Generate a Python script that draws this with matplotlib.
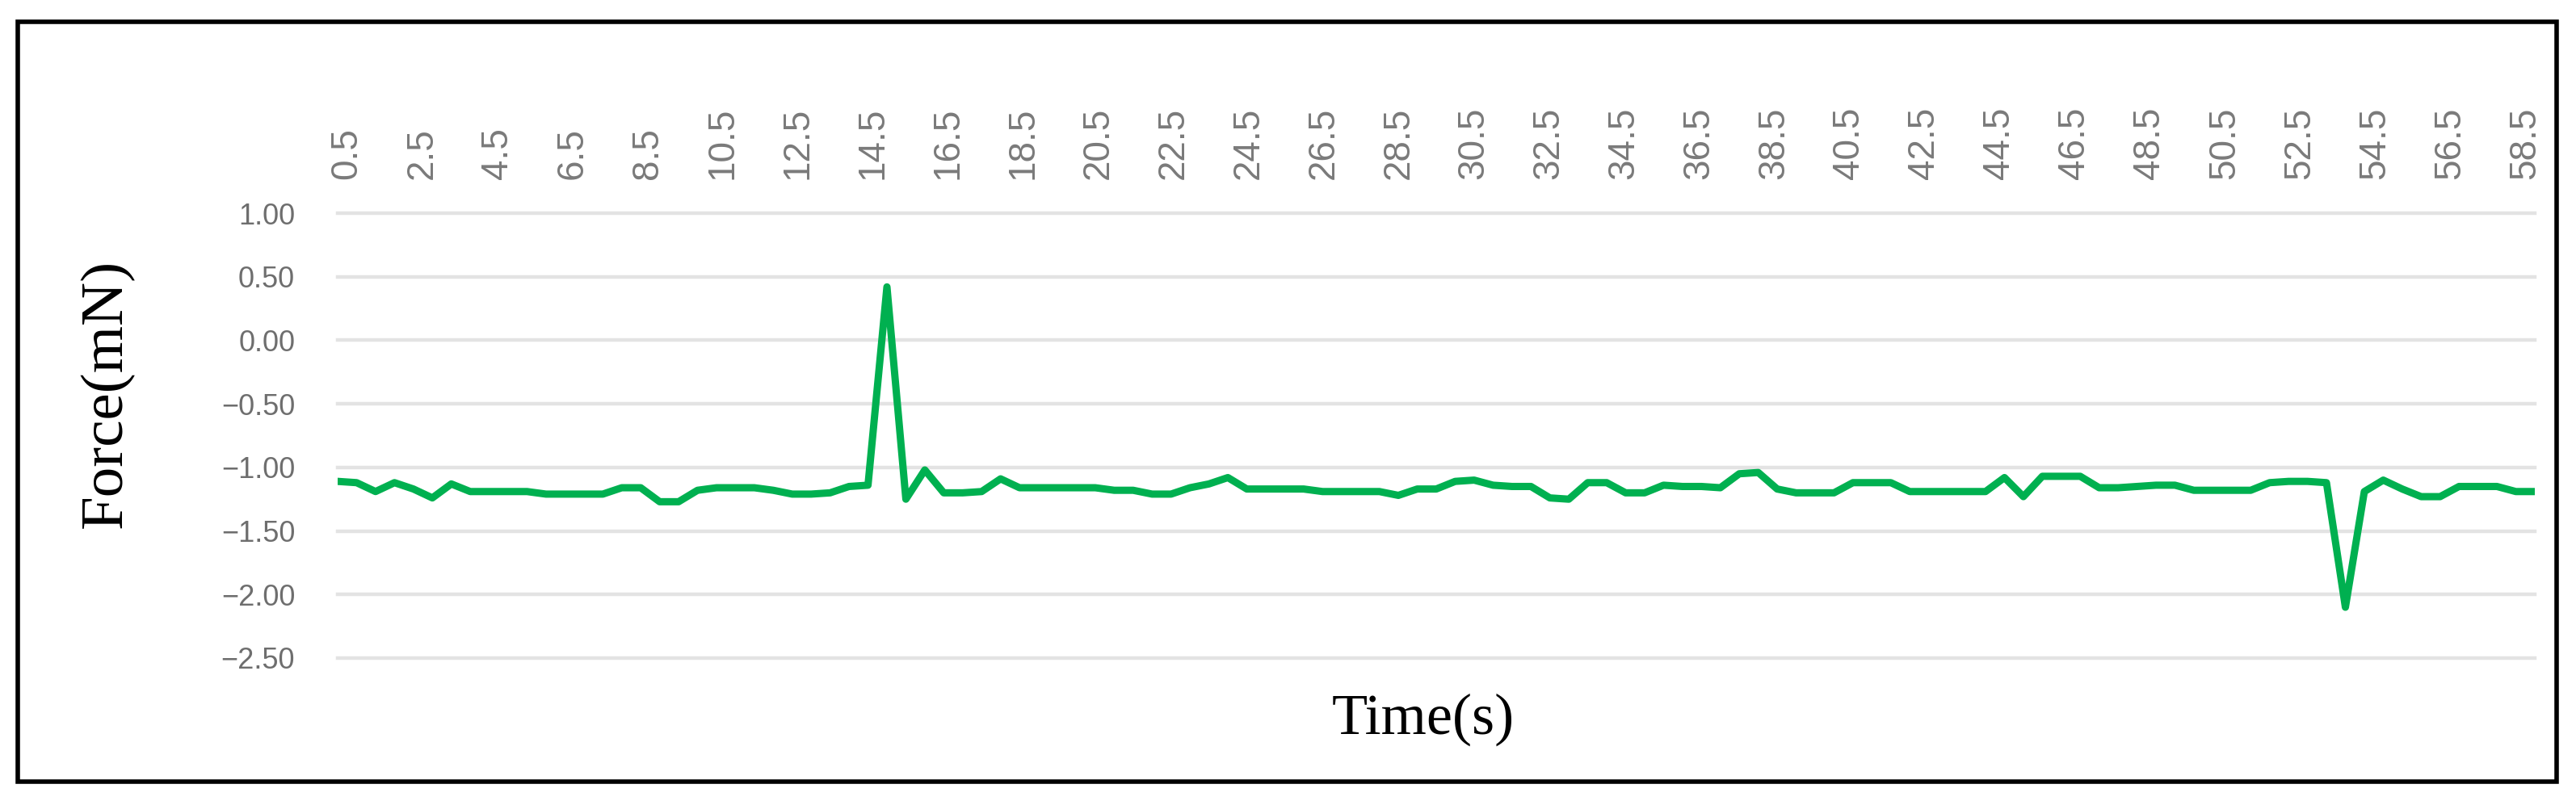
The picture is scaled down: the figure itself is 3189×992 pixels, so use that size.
import numpy as np
import matplotlib
matplotlib.use("Agg")
import matplotlib.pyplot as plt
from matplotlib import font_manager
from matplotlib.patches import Rectangle

# ---- data ----
time_s = np.arange(0.5, 58.75, 0.5)          # 0.5 ... 58.5 s, 117 samples
force_mN = [
    -1.11, -1.12, -1.19, -1.12, -1.17, -1.24, -1.13, -1.19, -1.19, -1.19,
    -1.19, -1.21, -1.21, -1.21, -1.21, -1.16, -1.16, -1.27, -1.27, -1.18,
    -1.16, -1.16, -1.16, -1.18, -1.21, -1.21, -1.20, -1.15, -1.14, 0.42,
    -1.25, -1.02, -1.20, -1.20, -1.19, -1.09, -1.16, -1.16, -1.16, -1.16,
    -1.16, -1.18, -1.18, -1.21, -1.21, -1.16, -1.13, -1.08, -1.17, -1.17,
    -1.17, -1.17, -1.19, -1.19, -1.19, -1.19, -1.22, -1.17, -1.17, -1.11,
    -1.10, -1.14, -1.15, -1.15, -1.24, -1.25, -1.12, -1.12, -1.20, -1.20,
    -1.14, -1.15, -1.15, -1.16, -1.05, -1.04, -1.17, -1.20, -1.20, -1.20,
    -1.12, -1.12, -1.12, -1.19, -1.19, -1.19, -1.19, -1.19, -1.08, -1.23,
    -1.07, -1.07, -1.07, -1.16, -1.16, -1.15, -1.14, -1.14, -1.18, -1.18,
    -1.18, -1.18, -1.12, -1.11, -1.11, -1.12, -2.10, -1.19, -1.10, -1.17,
    -1.23, -1.23, -1.15, -1.15, -1.15, -1.19, -1.19,
]
x_tick_values = [0.5, 2.5, 4.5, 6.5, 8.5, 10.5, 12.5, 14.5, 16.5, 18.5,
                 20.5, 22.5, 24.5, 26.5, 28.5, 30.5, 32.5, 34.5, 36.5, 38.5,
                 40.5, 42.5, 44.5, 46.5, 48.5, 50.5, 52.5, 54.5, 56.5, 58.5]
x_tick_labels = ["0.5", "2.5", "4.5", "6.5", "8.5", "10.5", "12.5", "14.5",
                 "16.5", "18.5", "20.5", "22.5", "24.5", "26.5", "28.5",
                 "30.5", "32.5", "34.5", "36.5", "38.5", "40.5", "42.5",
                 "44.5", "46.5", "48.5", "50.5", "52.5", "54.5", "56.5", "58.5"]
y_tick_values = [1.0, 0.5, 0.0, -0.5, -1.0, -1.5, -2.0, -2.5]
y_tick_labels = ["1.00", "0.50", "0.00", "\u22120.50", "\u22121.00",
                 "\u22121.50", "\u22122.00", "\u22122.50"]
x_title = "Time(s)"
y_title = "Force(mN)"

# ---- fonts ----
available = {f.name for f in font_manager.fontManager.ttflist}
narrow = "Liberation Sans Narrow" if "Liberation Sans Narrow" in available else "Liberation Sans"
serif = "Liberation Serif" if "Liberation Serif" in available else "DejaVu Serif"

W, H = 3189, 992
fig = plt.figure(figsize=(W / 100, H / 100), dpi=100)
fig.patch.set_facecolor("white")

left, right, top, bottom = 418, 3138, 264, 815
ax = fig.add_axes([left / W, 1 - bottom / H, (right - left) / W, (bottom - top) / H])

ax.plot(time_s, force_mN, color="#00B050", lw=6.5, solid_joinstyle="round")

t0, t1 = time_s[0], time_s[-1]
ax.set_xlim(t0, t1)
ax.set_ylim(-2.5, 1.0)

# category labels sit at the centre of each of the len(time_s) category slots
n_cat = len(time_s)
step = time_s[1] - time_s[0]
tick_pos = [t0 + ((v - t0) / step + 0.5) * (t1 - t0) / n_cat for v in x_tick_values]

ax.set_yticks(y_tick_values)
ax.set_yticklabels(y_tick_labels, fontsize=26, family=[narrow, "DejaVu Sans"], color="#6e6e6e")
ax.xaxis.tick_top()
ax.set_xticks(tick_pos)
ax.set_xticklabels(x_tick_labels, rotation=90, fontsize=33, family=[narrow, "DejaVu Sans"],
                   color="#7a7a7a")
ax.tick_params(axis="y", length=0, pad=38)
ax.tick_params(axis="x", length=0, pad=30)

ax.yaxis.grid(True, color="#e3e3e3", lw=3.2)
ax.xaxis.grid(False)
for gl in ax.get_ygridlines():
    gl.set_clip_on(False)
ax.set_axisbelow(True)
for s in ax.spines.values():
    s.set_visible(False)

fig.text(132 / W, 1 - 487 / H, y_title, rotation=90, ha="center", va="center",
         fontsize=54, family=serif, color="black")
fig.text(1762 / W, 1 - 891 / H, x_title, ha="center", va="center",
         fontsize=52, family=serif, color="black")

# outer frame
fig.patches.append(Rectangle((22 / W, 1 - 968 / H), (3165 - 22) / W, (968 - 27) / H,
                             transform=fig.transFigure, fill=False, edgecolor="black",
                             lw=4.0, zorder=10))

fig.savefig("out.png", dpi=100, facecolor="white")
